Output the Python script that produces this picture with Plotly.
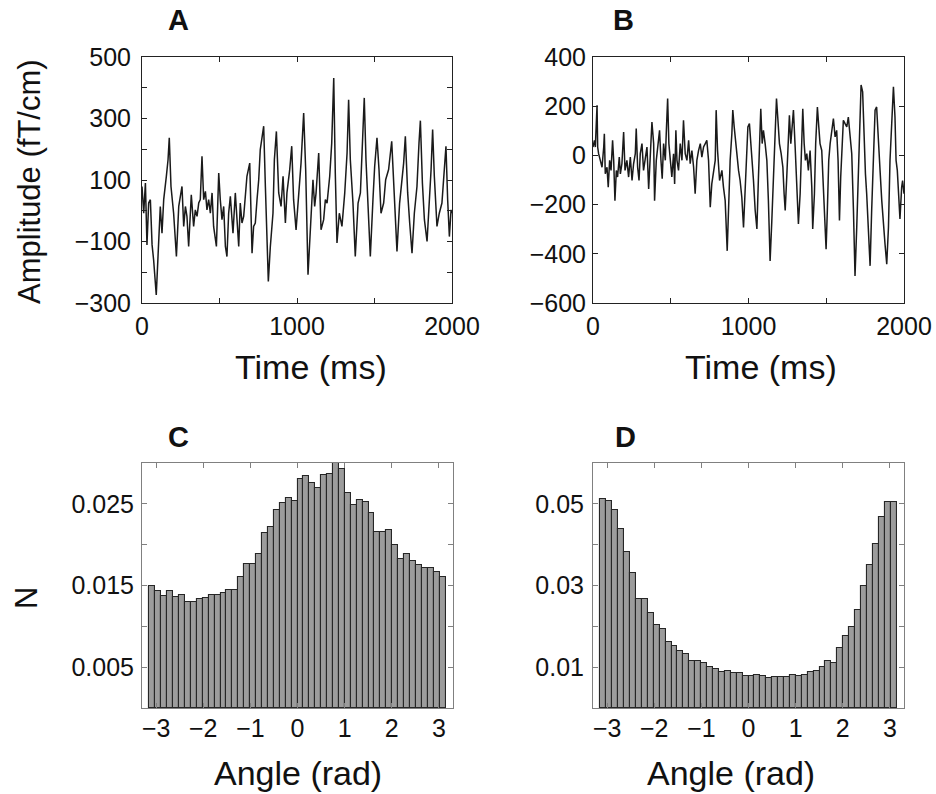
import plotly.graph_objects as go

# ---------------- data ----------------
A_TIME = [0,11,22,32,43,54,65,75,92,108,
          118,129,140,157,168,176,187,204,222,237,
          247,258,269,280,290,301,318,333,344,355,
          366,376,387,398,409,419,430,441,452,462,
          480,495,505,516,527,538,548,559,570,587,
          602,613,624,634,645,656,667,677,695,703,
          710,720,731,742,753,763,770,785,796,806,
          815,828,845,854,867,882,897,910,925,935,
          953,966,978,994,1011,1026,1043,1056,1071,1086,
          1103,1114,1123,1140,1155,1172,1183,1194,1211,1224,
          1237,1247,1258,1273,1290,1308,1323,1333,1344,1361,
          1376,1394,1409,1424,1434,1445,1458,1473,1490,1501,
          1516,1529,1542,1559,1572,1591,1611,1624,1645,1662,
          1677,1688,1699,1714,1727,1742,1757,1774,1787,1796,
          1809,1822,1839,1854,1865,1875,1886,1903,1918,1935,
          1951,1961,1972,1983,1994,2000]
A_AMP = [79,-8,90,-111,25,36,-111,-160,-274,-84,
         14,-73,36,112,166,237,79,-8,-149,14,
         47,79,-51,14,-18,-116,52,-51,3,-18,
         25,36,177,36,63,3,36,-8,58,-51,
         -116,123,36,-29,14,-116,-149,-8,47,-73,
         58,-18,-116,25,-40,-18,58,112,155,3,
         -138,-51,-40,36,101,199,220,275,79,-138,
         -230,-116,-8,166,258,58,14,112,-40,58,
         134,210,36,-62,58,155,318,134,-208,-51,
         101,14,58,188,-62,-29,36,25,112,220,
         432,123,-105,-8,-51,58,188,361,166,25,
         -149,25,58,242,367,166,14,-149,36,144,
         237,134,-8,25,101,134,226,68,-132,25,
         101,155,242,58,-40,-138,-8,79,220,293,
         90,-29,-100,25,134,264,112,-51,-8,25,
         123,210,36,-84,3,-8]

B_TIME = [0,9,15,26,30,36,47,58,69,73,
          79,90,98,107,116,126,133,141,150,158,
          169,176,186,197,206,218,229,240,251,261,
          272,278,287,296,304,315,325,336,347,358,
          368,379,390,396,407,415,428,437,445,454,
          465,471,480,488,497,507,518,525,533,540,
          550,561,572,582,593,604,615,625,636,647,
          657,668,679,690,700,711,722,732,743,754,
          764,775,786,792,801,814,829,839,850,863,
          874,882,893,899,908,916,925,936,946,957,
          968,976,985,996,1006,1015,1026,1032,1043,1054,
          1064,1071,1079,1088,1096,1107,1118,1128,1139,1150,
          1161,1171,1180,1188,1199,1210,1221,1229,1236,1246,
          1257,1263,1272,1280,1289,1300,1310,1321,1332,1340,
          1349,1358,1366,1375,1385,1396,1407,1413,1424,1432,
          1443,1452,1460,1471,1482,1492,1499,1507,1516,1525,
          1535,1546,1557,1567,1576,1585,1593,1602,1610,1621,
          1632,1642,1653,1664,1675,1685,1696,1707,1717,1724,
          1734,1743,1752,1760,1771,1782,1792,1803,1814,1824,
          1835,1846,1857,1867,1878,1889,1900,1910,1921,1932,
          1942,1949,1957,1968,1974,1985,1991,2000]
B_AMP = [34,61,34,204,34,7,-20,-48,34,88,
         -75,-48,-129,-20,-61,61,-20,-184,-61,-88,
         -7,-75,-34,95,-61,-20,-88,-7,-102,-34,
         7,109,-48,-102,7,48,-61,-20,34,-136,
         -7,136,48,-184,-20,20,102,-20,-95,48,
         -20,88,231,48,-20,-88,7,-116,102,-20,
         -61,48,-20,143,7,-20,61,-34,20,-48,
         -156,-20,20,48,-7,34,48,61,-20,-211,
         -116,-61,-20,184,20,-102,-61,-129,-184,-388,
         -184,-20,88,184,116,61,7,-61,-102,-170,
         -293,-156,-20,116,129,48,-20,-102,-224,-299,
         -88,61,190,48,102,48,-20,-184,-429,-265,
         -88,116,231,156,48,7,-48,-156,-224,-88,
         48,163,48,116,184,34,-129,-279,-156,48,
         190,48,-20,7,-61,20,-129,-299,-156,48,
         197,116,48,20,-129,-224,-381,-224,-20,48,
         88,150,75,102,-20,-265,-88,34,143,129,
         116,156,75,7,-224,-490,-293,-20,184,286,
         258,48,-75,-156,-293,-449,-224,-20,184,197,
         48,-61,-184,-293,-361,-442,-293,-20,116,279,
         156,-20,-61,-184,-258,-129,-102,-156]

ANGLE_BINS = [-3.0788,-2.9531,-2.8274,-2.7018,-2.5761,-2.4504,-2.3248,-2.1991,-2.0735,-1.9478,
              -1.8221,-1.6965,-1.5708,-1.4451,-1.3195,-1.1938,-1.0681,-0.9425,-0.8168,-0.6912,
              -0.5655,-0.4398,-0.3142,-0.1885,-0.0628,0.0628,0.1885,0.3142,0.4398,0.5655,
              0.6912,0.8168,0.9425,1.0681,1.1938,1.3195,1.4451,1.5708,1.6965,1.8221,
              1.9478,2.0735,2.1991,2.3248,2.4504,2.5761,2.7018,2.8274,2.9531,3.0788]
C_N = [0.0149,0.0143,0.0137,0.0143,0.0136,0.0138,0.0130,0.0130,0.0133,0.0135,
       0.0138,0.0138,0.0141,0.0144,0.0144,0.0161,0.0176,0.0176,0.0188,0.0214,
       0.0222,0.0243,0.0251,0.0257,0.0253,0.0280,0.0284,0.0276,0.0270,0.0285,
       0.0287,0.0305,0.0293,0.0263,0.0249,0.0255,0.0252,0.0239,0.0216,0.0216,
       0.0218,0.0200,0.0182,0.0188,0.0180,0.0175,0.0171,0.0172,0.0167,0.0161]
D_N = [0.0511,0.0508,0.0484,0.0438,0.0383,0.0331,0.0267,0.0267,0.0233,0.0204,
       0.0193,0.0162,0.0152,0.0140,0.0133,0.0115,0.0115,0.0109,0.0101,0.0096,
       0.0089,0.0090,0.0086,0.0086,0.0079,0.0079,0.0081,0.0079,0.0074,0.0077,
       0.0075,0.0075,0.0080,0.0078,0.0080,0.0088,0.0091,0.0100,0.0115,0.0111,
       0.0148,0.0176,0.0198,0.0239,0.0300,0.0349,0.0401,0.0468,0.0505,0.0505]

A_YTICKS = [-300,-200,-100,0,100,200,300,400,500]
A_YLABELS = ["\u2212300","","\u2212100","","100","","300","","500"]
B_YTICKS = [-600,-400,-200,0,200,400]
B_YLABELS = ["\u2212600","\u2212400","\u2212200","0","200","400"]
T_TICKS = [0,500,1000,1500,2000]
T_LABELS = ["0","","1000","","2000"]
C_YTICKS = [0.005,0.01,0.015,0.02,0.025,0.03]
C_YLABELS = ["0.005","","0.015","","0.025",""]
D_YTICKS = [0.01,0.02,0.03,0.04,0.05]
D_YLABELS = ["0.01","","0.03","","0.05"]
ANG_TICKS = [-3,-2,-1,0,1,2,3]
ANG_LABELS = ["\u22123","\u22122","\u22121","0","1","2","3"]

assert len(A_TIME) == len(A_AMP)
assert len(B_TIME) == len(B_AMP)

# ---------------- figure ----------------
W, H = 936, 794
FONT = "Liberation Sans, Arial, sans-serif"

fig = go.Figure()

def px_x(p):
    return p / W

def px_y(p):
    return 1 - p / H

dom = {
    "A": ([142, 452], [57, 303]),
    "B": ([593, 904], [57, 303]),
    "C": ([142, 453], [463, 708]),
    "D": ([593, 904], [463, 708]),
}
axes = {"A": ("x", "y"), "B": ("x2", "y2"), "C": ("x3", "y3"), "D": ("x4", "y4")}

fig.add_trace(go.Scatter(x=A_TIME, y=A_AMP, mode="lines", xaxis="x", yaxis="y",
                         line=dict(color="#1a1a1a", width=1.5), showlegend=False))
fig.add_trace(go.Scatter(x=B_TIME, y=B_AMP, mode="lines", xaxis="x2", yaxis="y2",
                         line=dict(color="#1a1a1a", width=1.5), showlegend=False))
bar_style = dict(color="#9c9c9c", line=dict(color="#262626", width=1.1))
fig.add_trace(go.Bar(x=ANGLE_BINS, y=C_N, xaxis="x3", yaxis="y3", marker=bar_style,
                     width=0.1258, showlegend=False))
fig.add_trace(go.Bar(x=ANGLE_BINS, y=D_N, xaxis="x4", yaxis="y4", marker=bar_style,
                     width=0.1258, showlegend=False))

tickfont = dict(family=FONT, size=25, color="#111")

def ax_common(linecolor):
    return dict(showline=True, linecolor=linecolor, linewidth=1, mirror="ticks",
                ticks="inside", ticklen=5, tickcolor=linecolor, showgrid=False,
                zeroline=False, tickfont=tickfont, fixedrange=True, automargin=False)

layout = dict(width=W, height=H, margin=dict(l=0, r=0, t=0, b=0, pad=0),
              paper_bgcolor="white", plot_bgcolor="white", bargap=0,
              template="none", autosize=False)

specs = {
    "A": dict(xr=[0, 2000], xt=T_TICKS, xl=T_LABELS, yr=[-300, 500], yt=A_YTICKS, yl=A_YLABELS,
              lc="#222", xs=1, ys=5),
    "B": dict(xr=[0, 2000], xt=T_TICKS, xl=T_LABELS, yr=[-600, 400], yt=B_YTICKS, yl=B_YLABELS,
              lc="#222", xs=1, ys=1),
    "C": dict(xr=[-3.3, 3.3], xt=ANG_TICKS, xl=ANG_LABELS, yr=[0, 0.03], yt=C_YTICKS, yl=C_YLABELS,
              lc="#808080", xs=-2, ys=2),
    "D": dict(xr=[-3.3, 3.3], xt=ANG_TICKS, xl=ANG_LABELS, yr=[0, 0.06], yt=D_YTICKS, yl=D_YLABELS,
              lc="#808080", xs=-2, ys=3),
}

for key, (xd, yd) in dom.items():
    xa, ya = axes[key]
    s = specs[key]
    xname = "xaxis" + xa[1:]
    yname = "yaxis" + ya[1:]
    xax = ax_common(s["lc"])
    xax.update(domain=[px_x(xd[0]), px_x(xd[1])], range=s["xr"], tickvals=s["xt"],
               ticktext=s["xl"], anchor=ya, ticklabelstandoff=s["xs"])
    yax = ax_common(s["lc"])
    yax.update(domain=[px_y(yd[1]), px_y(yd[0])], range=s["yr"], tickvals=s["yt"],
               ticktext=s["yl"], anchor=xa, ticklabelstandoff=s["ys"])
    layout[xname] = xax
    layout[yname] = yax

fig.update_layout(**layout)

def ann(text, x, y, size=31, bold=False, angle=0):
    fig.add_annotation(text=("<b>%s</b>" % text) if bold else text,
                       x=px_x(x), y=px_y(y), xref="paper", yref="paper",
                       xanchor="center", yanchor="middle", showarrow=False,
                       textangle=angle, font=dict(family=FONT, size=size, color="#111"))

ann("A", 178, 20, size=29, bold=True)
ann("B", 623, 20, size=29, bold=True)
ann("C", 178, 437, size=29, bold=True)
ann("D", 625, 437, size=29, bold=True)
ann("Amplitude (fT/cm)", 30, 182, angle=-90)
ann("Time (ms)", 311, 367, size=34)
ann("Time (ms)", 761, 367, size=34)
ann("N", 26, 598, angle=-90)
ann("Angle (rad)", 298, 773, size=34)
ann("Angle (rad)", 731, 773, size=34)

fig.write_html(
    "out.html",
    config={"displayModeBar": False},
    post_script="document.body.style.margin='0';document.body.style.overflow='hidden';",
)
